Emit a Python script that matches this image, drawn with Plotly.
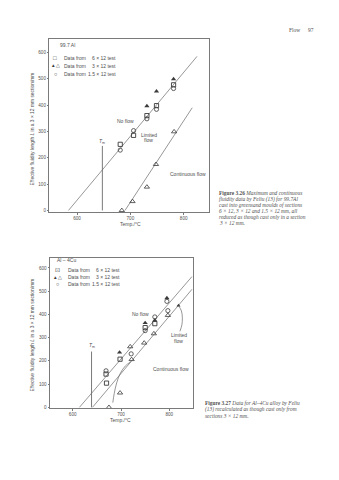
import plotly.graph_objects as go

W, H = 339, 480

# ---------------- Top chart: 99.7 Al ----------------
a_sq_x = [681, 706, 731, 749, 781]
a_sq_y = [251, 285, 360, 398, 477]
a_ci_x = [681, 706, 731, 749, 781]
a_ci_y = [229, 303, 348, 384, 463]
a_tf_x = [731, 749, 781]
a_tf_y = [396, 452, 499]
a_to_x = [684, 704, 731, 748, 782]
a_to_y = [0, 34, 89, 175, 299]
a_line1_x = [584, 825]
a_line1_y = [0, 585]
a_line2_x = [690, 816]
a_line2_y = [0, 390]
a_tm_x = [647.5, 647.5]
a_tm_y = [0, 245]

# ---------------- Bottom chart: Al-4Cu ----------------
b_sq_x = [669, 670, 698, 750, 770]
b_sq_y = [143, 104, 207, 343, 360]
b_ci_x = [669, 721, 750, 770, 795, 797]
b_ci_y = [157, 230, 330, 389, 456, 416]
b_tf_x = [697, 750, 770, 795]
b_tf_y = [236, 363, 374, 470]
b_to_x = [675, 698, 719, 722, 748, 768, 797]
b_to_y = [0, 62, 261, 206, 277, 317, 396]
b_lineA_x = [614, 847]
b_lineA_y = [0, 563]
b_lineB_x = [641, 847]
b_lineB_y = [0, 508]
b_curve_x = [683, 686, 691, 699, 709, 721]
b_curve_y = [20, 60, 105, 148, 178, 197]
b_arrow_x = [822, 826, 827, 825, 819]
b_arrow_y = [327, 355, 385, 415, 438]
b_tm_x = [639, 639]
b_tm_y = [0, 240]

y_ticks = [0, 100, 200, 300, 400, 500, 600]
x_ticks = [600, 700, 800]

INK = "#3a3a3a"
LINE = "#6a6a6a"
TXT = "#505050"
SANS = "Liberation Sans, Arial, sans-serif"
SERIF = "Liberation Serif, Times New Roman, serif"


def px(x):
    return x / W


def py(y):
    return 1 - y / H


fig = go.Figure()


def add_set(xa, ya, sq_x, sq_y, ci_x, ci_y, tf_x, tf_y, to_x, to_y):
    common = dict(mode="markers", xaxis=xa, yaxis=ya, showlegend=False, hoverinfo="skip")
    fig.add_trace(go.Scatter(x=sq_x, y=sq_y, marker=dict(symbol="square-open", size=4.2, color=INK,
                                                          line=dict(width=0.9, color=INK)), **common))
    fig.add_trace(go.Scatter(x=ci_x, y=ci_y, marker=dict(symbol="circle-open", size=4.2, color=INK,
                                                          line=dict(width=0.8, color=INK)), **common))
    fig.add_trace(go.Scatter(x=tf_x, y=tf_y, marker=dict(symbol="triangle-up", size=4.6, color=INK,
                                                          line=dict(width=0)), **common))
    fig.add_trace(go.Scatter(x=to_x, y=to_y, marker=dict(symbol="triangle-up-open", size=4.6, color=INK,
                                                          line=dict(width=0.8, color=INK)), **common))


def add_line(xa, ya, xs, ys, w=0.7, shape="linear"):
    fig.add_trace(go.Scatter(x=xs, y=ys, mode="lines", xaxis=xa, yaxis=ya, showlegend=False,
                             hoverinfo="skip", line=dict(color=LINE, width=w, shape=shape)))


add_line("x", "y", a_line1_x, a_line1_y)
add_line("x", "y", a_line2_x, a_line2_y)
add_line("x", "y", a_tm_x, a_tm_y, w=0.9)
add_set("x", "y", a_sq_x, a_sq_y, a_ci_x, a_ci_y, a_tf_x, a_tf_y, a_to_x, a_to_y)

add_line("x2", "y2", b_lineA_x, b_lineA_y)
add_line("x2", "y2", b_lineB_x, b_lineB_y)
add_line("x2", "y2", b_tm_x, b_tm_y, w=0.9)
add_line("x2", "y2", b_curve_x, b_curve_y, shape="spline")
add_line("x2", "y2", b_arrow_x, b_arrow_y, shape="spline")
fig.add_trace(go.Scatter(x=b_arrow_x[-1:], y=b_arrow_y[-1:], mode="markers", xaxis="x2", yaxis="y2",
                         showlegend=False, hoverinfo="skip",
                         marker=dict(symbol="triangle-up", size=3.5, color=INK)))
add_set("x2", "y2", b_sq_x, b_sq_y, b_ci_x, b_ci_y, b_tf_x, b_tf_y, b_to_x, b_to_y)

axis_common = dict(showline=True, mirror=True, linecolor="#7a7a7a", linewidth=0.8,
                   showgrid=False, zeroline=False, ticks="outside", ticklen=1.5, tickwidth=0.6,
                   tickcolor="#7a7a7a", tickfont=dict(family=SANS, size=4.6, color=TXT))

fig.update_layout(
    width=W, height=H, margin=dict(l=0, r=0, t=0, b=0),
    paper_bgcolor="white", plot_bgcolor="white",
    xaxis=dict(domain=[px(49.3), px(209.3)], range=[548, 848], tickvals=x_ticks, anchor="y", **axis_common),
    yaxis=dict(domain=[py(213.3), py(39.3)], range=[-7.6, 650.5], tickvals=y_ticks, anchor="x", **axis_common),
    xaxis2=dict(domain=[px(50), px(192.7)], range=[553, 848.4], tickvals=x_ticks, anchor="y2", **axis_common),
    yaxis2=dict(domain=[py(410), py(259)], range=[-4.3, 643], tickvals=y_ticks, anchor="x2", **axis_common),
)

ann = []


def T(x, y, text, ref="paper", size=5, font=SANS, xanchor="center", yanchor="middle", angle=0, color=TXT):
    if ref == "paper":
        d = dict(xref="paper", yref="paper", x=px(x), y=py(y))
    else:
        d = dict(xref=ref[0], yref=ref[1], x=x, y=y)
    ann.append(dict(text=text, showarrow=False, xanchor=xanchor, yanchor=yanchor, textangle=angle,
                    font=dict(family=font, size=size, color=color), **d))


# header
T(302, 30, "Flow", size=5.5, font=SERIF, xanchor="right")
T(306, 30, "97", size=5.5, font=SERIF, xanchor="left")

# top chart texts
T(57.5, 45, "99.7 Al", xanchor="left")
T(55, 58, "□", size=6, color=INK)
T(55, 66, "▲△", size=4.6, color=INK)
T(55, 74, "○", size=5.5, color=INK)
for yy, t in [(58, "6 × 12 test"), (66, "3 × 12 test"), (74, "1.5 × 12 test")]:
    T(62, yy, "Data from", xanchor="left")
    T(117.5, yy, t, xanchor="right")
T(690, 341, "No flow", ref=("x", "y"))
T(734, 286, "Limited", ref=("x", "y"))
T(734, 266, "flow", ref=("x", "y"))
T(808, 137, "Continuous flow", ref=("x", "y"))
T(647.5, 262, "<i>T</i><sub>m</sub>", ref=("x", "y"), size=5)
T(130, 225, "Temp./°C")
T(32, 130, "Effective fluidity length <i>L</i> in a 3 × 12 mm section/mm", angle=-90, size=4.9)

cap1 = ["<b>Figure 3.26</b> <i>Maximum and continuous</i>",
        "<i>fluidity data by Feliu (13) for 99.7Al</i>",
        "<i>cast into greensand moulds of sections</i>",
        "<i>6 × 12, 3 × 12 and 1.5 × 12 mm, all</i>",
        "<i>reduced as though cast only in a section</i>",
        "<i>3 × 12 mm.</i>"]
for i, line in enumerate(cap1):
    T(217, 194 + i * 6, line, size=5.4, font=SERIF, xanchor="left")

# bottom chart texts
T(55, 261, "Al – 4Cu", xanchor="left")
T(57.5, 271.5, "⊡", size=5.5, color=INK)
T(57.5, 278.5, "▲△", size=4.6, color=INK)
T(57.5, 285.5, "○", size=5.5, color=INK)
for yy, t in [(271.5, "6 × 12 test"), (278.5, "3 × 12 test"), (285.5, "1.5 × 12 test")]:
    T(66, yy, "Data from", xanchor="left")
    T(121.5, yy, t, xanchor="right")
T(741, 402, "No flow", ref=("x2", "y2"))
T(819, 310, "Limited", ref=("x2", "y2"))
T(819, 286, "flow", ref=("x2", "y2"))
T(803, 163, "Continuous flow", ref=("x2", "y2"))
T(639, 264, "<i>T</i><sub>m</sub>", ref=("x2", "y2"), size=5)
T(120, 422, "Temp./°C")
T(33, 337, "Effective fluidity length <i>L</i> in a 3 × 12 mm section/mm", angle=-90, size=4.9)

cap2 = ["<b>Figure 3.27</b> <i>Data for Al–4Cu alloy by Feliu</i>",
        "<i>(13) recalculated as though cast only from</i>",
        "<i>sections 3 × 12 mm.</i>"]
for i, line in enumerate(cap2):
    T(203, 405 + i * 6.3, line, size=5.4, font=SERIF, xanchor="left")

fig.update_layout(annotations=ann)
fig.write_html("out.html")
